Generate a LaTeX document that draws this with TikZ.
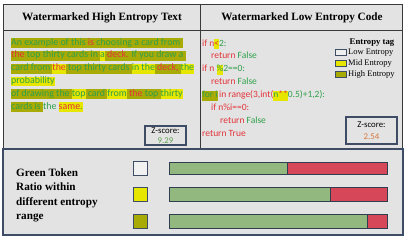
\documentclass[tikz,border=0pt]{standalone}
\usepackage{fontspec}
\setmainfont{Liberation Serif}
\newfontfamily\calfont{Carlito}
\definecolor{bgc}{HTML}{E3E3E3}
\definecolor{hiO}{HTML}{A8AA06}
\definecolor{hiY}{HTML}{E6E600}
\definecolor{tG}{HTML}{2EA04A}
\definecolor{tR}{HTML}{E2343A}
\definecolor{barG}{HTML}{93B87F}
\definecolor{barR}{HTML}{D6475A}
\definecolor{barB}{HTML}{2F3F4F}
\definecolor{boxB}{HTML}{3E4C66}
\definecolor{topB}{HTML}{3A3A3A}
\definecolor{zG}{HTML}{5E9E50}
\definecolor{zO}{HTML}{D8763A}
\newcommand{\hlstrut}{\rule[-3pt]{0pt}{9.8pt}}
\newcommand{\hO}[1]{{\setlength{\fboxsep}{0pt}\colorbox{hiO}{\hlstrut#1}}}
\newcommand{\hY}[1]{{\setlength{\fboxsep}{0pt}\colorbox{hiY}{\hlstrut#1}}}
\newcommand{\R}[1]{\textcolor{tR}{#1}}
\begin{document}
\begin{tikzpicture}[x=1pt,y=-1pt,
  txt/.style={inner sep=0pt,anchor=base west,font=\calfont\fontsize{9.9}{10}\selectfont,text=tG},
  code/.style={inner sep=0pt,anchor=base west,font=\calfont\fontsize{9.5}{10}\selectfont,text=tG},
  head/.style={inner sep=0pt,font=\fontsize{11.2}{12}\selectfont\bfseries},
  leg/.style={inner sep=0pt,anchor=west,font=\fontsize{8.5}{9}\selectfont},
  legbox/.style={draw=boxB,line width=0.9pt},
  zbox/.style={draw=boxB,line width=1.1pt,fill=bgc},
  ztxt/.style={inner sep=0pt,font=\calfont\fontsize{8.8}{9}\selectfont},
  bar/.style={draw=barB,line width=0.8pt},
  sq/.style={draw=boxB,line width=0.8pt},
  lab/.style={inner sep=0pt,anchor=base west,font=\fontsize{11.2}{12}\selectfont\bfseries}]
\useasboundingbox (0,0) rectangle (407,241);
% top panels
\fill[bgc] (3,4) rectangle (402,148);
\draw[topB,line width=1pt] (3,4) rectangle (402,148);
\draw[topB,line width=1pt] (3,30) -- (402,30);
\draw[topB,line width=1pt] (200,4) -- (200,148);
\node[head] (h1) at (102,18) {Watermarked High Entropy Text};
\node[head] (h2) at (302,18) {Watermarked Low Entropy Code};
% left text
\node[txt] (l1) at (11,45) {\hO{An example of this \R{is} choosing a card from\ }};
\node[txt] (l2) at (11,57.8) {\hO{\R{the} top thirty cards in }\hY{a}\hO{ \R{deck.} If you draw a\ }};
\node[txt] (l3) at (11,70.6) {\hO{card from }\hY{\R{the}}\hO{ top thirty cards }\hY{in the}\hO{ \R{deck,} }\hY{the}};
\node[txt] (l4) at (11,83.4) {\hY{probability}};
\node[txt] (l5) at (11,96.2) {\hO{of drawing the }\hY{top}\hO{ card }\hY{from}\hO{ \R{the} top }\hY{thirty}};
\node[txt] (l6) at (11,109) {\hO{cards is }the \hY{\R{same}.}};
% left z-score
\draw[zbox] (145,126) rectangle (186,145);
\node[ztxt] (z1) at (165.5,131) {Z-score:};
\node[ztxt,text=zG] (z1v) at (165.5,140.5) {9.29};
% code
\node[code] (c1) at (202,46) {\R{if n}\hY{\R{<}}2:};
\node[code] (c2) at (211,58.9) {\R{return} False};
\node[code] (c3) at (202,71.8) {\R{if n }\hY{\%}2==0:};
\node[code] (c4) at (211,84.7) {\R{return} False};
\node[code] (c5) at (202,97.6) {\hO{for i}\,\R{in range(3,int(}\hY{n\R{**}}0.5)+1,2):};
\node[code] (c6) at (211,110.5) {\R{if n\%i==0:}};
\node[code] (c7) at (220,123.4) {\R{return} False};
\node[code] (c8) at (202,136.3) {\R{return True}};
% legend
\node[inner sep=0pt,font=\fontsize{8.7}{9}\selectfont\bfseries] (lt) at (372,43) {Entropy tag};
\draw[legbox,fill=bgc!60!white] (335,49) rectangle (346,55.5);
\draw[legbox,fill=hiY] (335,60) rectangle (346,66.5);
\draw[legbox,fill=hiO] (335,71) rectangle (346,77.5);
\node[leg] (lg1) at (348,52.5) {Low Entropy};
\node[leg] (lg2) at (348,63) {Mid Entropy};
\node[leg] (lg3) at (348,74) {High Entropy};
% right z-score
\draw[zbox] (346,117) rectangle (397,144);
\node[ztxt] (z2) at (371.5,125) {Z-score:};
\node[ztxt,text=zO] (z2v) at (371.5,136.5) {2.54};
% bottom panel
\fill[bgc] (3,149) rectangle (403,235);
\draw[boxB,line width=1.2pt] (3,149) rectangle (403,235);
\node[lab] (b1) at (16,176) {Green Token};
\node[lab] (b2) at (16,190.5) {Ratio within};
\node[lab] (b3) at (16,205) {different entropy};
\node[lab] (b4) at (16,219.5) {range};
\draw[sq,fill=bgc!50!white] (133,161) rectangle (147,175);
\draw[sq,fill=hiY] (133,187.5) rectangle (147,201.5);
\draw[sq,fill=hiO] (133,214.5) rectangle (147,228.5);
\draw[bar,fill=barG] (169,162) rectangle (287,174);
\draw[bar,fill=barR] (287,162) rectangle (387,174);
\draw[bar,fill=barG] (169,187.5) rectangle (330,201.5);
\draw[bar,fill=barR] (330,187.5) rectangle (387,201.5);
\draw[bar,fill=barG] (169,214.5) rectangle (367,228.5);
\draw[bar,fill=barR] (367,214.5) rectangle (387,228.5);
\end{tikzpicture}
\end{document}
